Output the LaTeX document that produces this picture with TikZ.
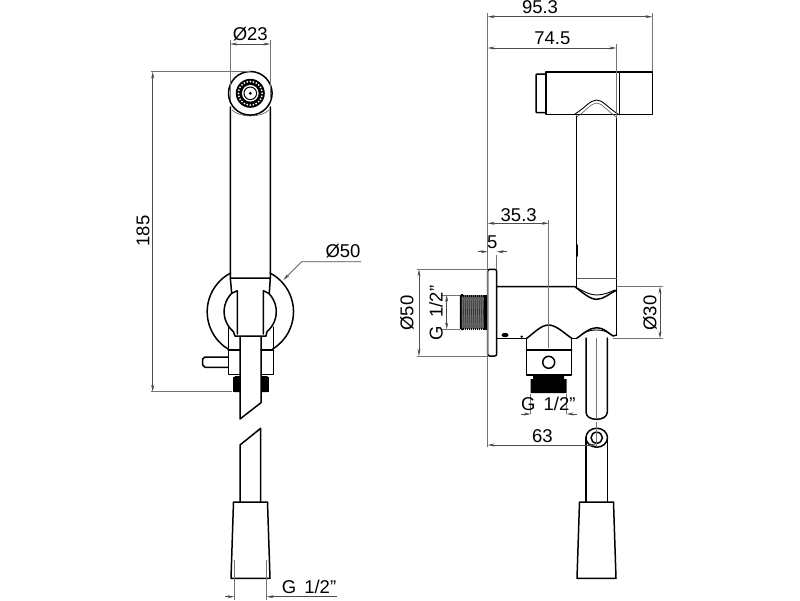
\documentclass[tikz,border=0pt]{standalone}
\usepackage{fontspec}
\setmainfont{Liberation Sans}
\usetikzlibrary{arrows.meta}
\tikzset{>={Stealth[length=7pt,width=3pt]},
part/.style={line width=1.5pt, line join=round, line cap=round},
thin part/.style={line width=.6pt, black!65},
dimline/.style={line width=.6pt, black!70},
extline/.style={line width=.6pt, black!55},
dimtext/.style={inner sep=0pt, font=\fontsize{18.5}{20}\selectfont},
}
\newcommand{\grip}[1]{
    \draw[part] (#1-17,502) -- (#1+17,502) -- (#1+19.5,578.3) -- (#1-19.5,578.3) -- cycle;
}
\newcommand{\gsize}{G\hspace{3pt} 1/2"}

\begin{document}
\begin{tikzpicture}[x=1pt,y=-1pt]
\useasboundingbox (0,0) rectangle (800,600);
    % left view
    \coordinate (head) at (250.3,93.3);
    \coordinate (wall) at (250.3,311.7);
    \draw[thin part] (232,110) .. controls (240,118) and (261,118) .. (269,110);
    \draw[part] (head) circle (21.8);
    \fill (head) circle (14.5);
    \foreach \a in {0,15,...,345} \fill[white] (head) ++(\a:11.8) circle (1);
    \fill[white] (head) circle (8.3);
    \draw[line width=1pt] (head) circle (6.3);
    \fill (head) circle (1.6);
    \draw[part] (230.3,107) -- (230.3,278) -- (270.3,278) -- (270.3,107)
    (230.3,278) -- (231.7,293.3) (270.3,278) -- (269.3,293.3);
    \draw[part] (230.7,273) arc (242.5:120.3:43.7);
    \draw[part] (270,273) arc (-62.5:58.5:43.7);
    \draw[part] (237.3,290.7) -- (231.7,293.3) arc (225:130:26) -- (235,336) -- (266,336) -- (267,331.6) arc (50:-45:26) -- (263.3,290.7)
    (237.3,290.7) -- (237.3,334) (263.3,290.7) -- (263.3,334);
    \draw[part] (228.3,327) -- (228.3,374.3) -- (240,374.3) (261,374.3) -- (273.3,374.3) -- (273.3,327)
    (228.3,350) -- (240,350) (261,350) -- (273.3,350);
    \draw[part] (240,337) -- (240,419) -- (261,402.7) -- (261,337);
    \draw[part] (228.3,357) -- (205,357) -- (202.7,359) -- (202.7,365) -- (205,367.3) -- (228.3,367.3);
    \foreach \y in {377,380,...,389} {
        \fill (233,\y) rectangle (240,\y+2.6);
        \fill (261,\y) rectangle (269,\y+2.6);
    }
    \fill (234.5,376) rectangle (240,392) (261,376) rectangle (267.5,392);
    \draw[part] (240,445) -- (260.7,428.3) -- (260.7,502) (240,445) -- (240,502);
    \grip{250.5}
    % right view
    \draw[part] (546,72) rectangle (652.3,114.7);
    \draw[part] (619.3,72) -- (619.3,114.7);
    \draw[part, rounded corners=1pt] (546,74) -- (536,74) -- (536,112.7) -- (546,112.7);
    \draw[part] (576.7,116) -- (576.7,288) (616.7,114.7) -- (616.7,335);
    \draw[line width=.9pt] (575,114) .. controls (585,108) and (590,100) .. (596.7,100) .. controls (603,100) and (608,108) .. (618,114);
    \draw[thin part] (576.7,117) .. controls (586,111) and (591,103) .. (596.7,103) .. controls (602,103) and (607,111) .. (616.5,117);
    \draw[part] (577.3,245) -- (577.3,256);
    \draw[thin part] (577.3,278) -- (616.7,278);
    \draw[part] (496.7,286.7) -- (575,286.7) .. controls (583,293) and (590,299.3) .. (596.7,299.3) .. controls (604,299.3) and (610,293) .. (616.7,290);
    \draw[line width=.9pt] (577.3,288) .. controls (585,292) and (590,295) .. (596.7,295) .. controls (604,295) and (610,292) .. (615,290);
    % flange and thread
    \draw[part, rounded corners=2pt] (487.7,269.3) rectangle (496.7,356);
    \fill[black!55] (460.7,295) rectangle (487.3,329.3);
    \foreach \x in {461,463,...,485} {
        \draw[line width=.7pt, black!80] (\x,296) -- (\x+1,328);
        \fill (\x,294.5) rectangle (\x+1.2,297);
        \fill (\x,327.5) rectangle (\x+1.2,330);
    }
    \fill (484,294.5) rectangle (487.5,330);
    \draw[line width=1.6pt, rounded corners=1pt] (463,295) -- (460.7,295) -- (460.7,329.3) -- (463,329.3);
    \draw[part] (496.7,338.3) -- (526.7,338.3);
    \fill (505,335) ellipse (3.5 and 2.2) (521.7,336.7) circle (1.3);
    \draw[part] (526.7,338.3) -- (526.7,375) -- (571.7,375) -- (571.7,338.3) -- (576.7,338.3)
    (526.7,350) -- (571.7,350);
    \draw[part] (526.7,338.3) .. controls (534,333) and (541,325) .. (548.7,325) .. controls (556,325) and (564,333) .. (571.7,338.3);
    \draw[part] (548.7,362.3) circle (6);
    \fill (530.7,379) rectangle (566.7,393) (533,375) rectangle (564,380);
    \draw[part] (576.7,338.3) .. controls (584,333) and (590,327.7) .. (596.7,327.7) .. controls (604,327.7) and (608,333) .. (613,336) -- (616.7,335);
    \draw[line width=.9pt] (582,334) .. controls (588,330.5) and (592,330) .. (596.7,330) .. controls (602,330) and (606,331) .. (610,334);
    \draw[part] (586,338) -- (586,412) .. controls (586,417) and (591,419.3) .. (596.7,419.3) .. controls (602,419.3) and (607.3,417) .. (607.3,412) -- (607.3,338);
    \coordinate (ring) at (596.7,437.7);
    \draw[part] (ring) ellipse (10.8 and 9.5);
    \draw[part] (ring) ellipse (5.7 and 5.5);
    \draw[part] (586,438) -- (586,502) (607.3,438) -- (607.3,502);
    \grip{596.5}
    % extension lines
    \draw[extline] (230.3,40) -- (230.3,100) (270.3,40) -- (270.3,100)
    (150.7,71.7) -- (250,71.7) (150.7,391.7) -- (232,391.7)
    (234.3,560) -- (234.3,600) (266.7,560) -- (266.7,600)
    (487.7,13) -- (487.7,447) (652.3,13) -- (652.3,71) (616.3,44) -- (616.3,118)
    (548.7,220) -- (548.7,348) (496.7,255) -- (496.7,269)
    (417,269.3) -- (487,269.3) (417,356) -- (487,356)
    (441,295) -- (460,295) (441,329.3) -- (460,329.3)
    (616.7,286.7) -- (662.7,286.7) (613,338.3) -- (662.7,338.3)
    (596.7,338) -- (596.7,418) (596.7,422) -- (596.7,447)
    (530.7,394) -- (530.7,414) (566.7,394) -- (566.7,414);
    % dimensions
    \coordinate (d23a) at (230.3,44);
    \coordinate (d23b) at (270.3,44);
    \coordinate (d185a) at (152.7,71.7);
    \coordinate (d185b) at (152.7,391.7);
    \coordinate (g1) at (225,596.7);
    \coordinate (g2) at (234.3,596.7);
    \coordinate (g3) at (336.7,596.7);
    \coordinate (g4) at (266.7,596.7);
    \coordinate (l50a) at (283.3,280);
    \coordinate (l50b) at (301.7,261.7);
    \coordinate (l50c) at (361,261.7);
    \coordinate (d95a) at (487.7,16.7);
    \coordinate (d95b) at (652.3,16.7);
    \coordinate (d74a) at (487.7,48);
    \coordinate (d74b) at (616.3,48);
    \coordinate (d35a) at (487.7,223.3);
    \coordinate (d35b) at (548.7,223.3);
    \coordinate (d5a) at (478.3,251.7);
    \coordinate (d5b) at (487.7,251.7);
    \coordinate (d5c) at (506.7,251.7);
    \coordinate (d5d) at (496.7,251.7);
    \coordinate (f50a) at (419,269.3);
    \coordinate (f50b) at (419,356);
    \coordinate (fg1) at (446.7,295);
    \coordinate (fg2) at (446.7,329.3);
    \coordinate (d30a) at (660,286.7);
    \coordinate (d30b) at (660,338.3);
    \coordinate (vg1) at (520.7,414);
    \coordinate (vg2) at (530.7,414);
    \coordinate (vg3) at (576.7,414);
    \coordinate (vg4) at (566.7,414);
    \coordinate (d63a) at (487.7,445);
    \coordinate (d63b) at (596.7,445);
    \draw[dimline,<->] (d23a) -- (d23b);
    \draw[dimline,<->] (d185a) -- (d185b);
    \draw[dimline,->] (g1) -- (g2);
    \draw[dimline,->] (g3) -- (g4);
    \draw[dimline,->] (l50c) -- (l50b) -- (l50a);
    \draw[dimline,<->] (d95a) -- (d95b);
    \draw[dimline,<->] (d74a) -- (d74b);
    \draw[dimline,<->] (d35a) -- (d35b);
    \draw[dimline,->] (d5a) -- (d5b);
    \draw[dimline,->] (d5c) -- (d5d);
    \draw[dimline,<->] (f50a) -- (f50b);
    \draw[dimline,<->] (fg1) -- (fg2);
    \draw[dimline,<->] (d30a) -- (d30b);
    \draw[dimline,->] (vg1) -- (vg2);
    \draw[dimline,->] (vg3) -- (vg4);
    \draw[dimline,<->] (d63a) -- (d63b);
    % labels
    \node[dimtext] (t23) at (250.3,34) {Ø23};
    \node[dimtext, rotate=90] (t185) at (143,231) {185};
    \node[dimtext] (t50) at (343,251) {Ø50};
    \node[dimtext] (tg) at (309,586.7) {\gsize};
    \node[dimtext] (t95) at (540,7) {95.3};
    \node[dimtext] (t74) at (552.3,38) {74.5};
    \node[dimtext] (t35) at (518.7,214.7) {35.3};
    \node[dimtext] (t5) at (492.3,242) {5};
    \node[dimtext, rotate=90] (tf50) at (407,313) {Ø50};
    \node[dimtext, rotate=90] (tfg) at (436,313) {\gsize};
    \node[dimtext, rotate=90] (t30) at (650,313) {Ø30};
    \node[dimtext] (tvg) at (548.3,404) {\gsize};
    \node[dimtext] (t63) at (542.3,435.7) {63};
\end{tikzpicture}
\end{document}
